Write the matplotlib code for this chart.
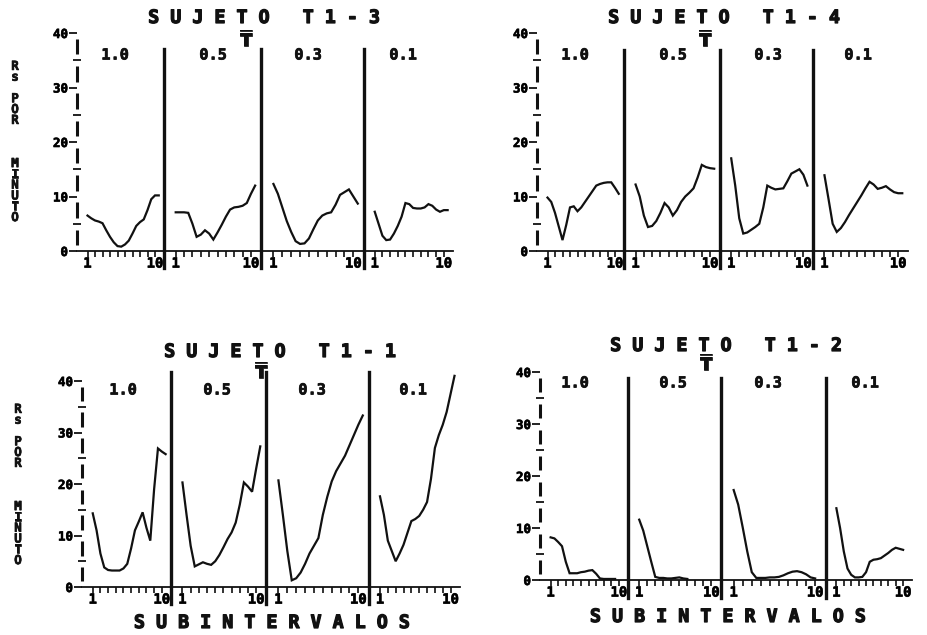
import numpy as np
import matplotlib
matplotlib.use("Agg")
import matplotlib.pyplot as plt
import matplotlib.patheffects as pe
from matplotlib.lines import Line2D

W, H = 927, 635
nan = np.nan

# subintervalos (medio paso)
x = np.arange(1, 11, 0.5)
conditions = ["1.0", "0.5", "0.3", "0.1"]

# Rs por minuto, sujeto T1-3
t13_c10 = [6.5, 6.0, 5.6, 5.4, 5.1, 3.8, 2.6, 1.6, 0.9, 0.8, 1.2, 1.9, 3.2, 4.6, 5.3, 5.8, 7.5, 9.5, 10.2, 10.2]
t13_c05 = [7.1, 7.1, 7.1, 7.0, 5.0, 2.6, 3.0, 3.8, 3.2, 2.1, 3.4, 4.8, 6.3, 7.6, 8.0, 8.1, 8.3, 8.8, 10.5, 12.0]
t13_c03 = [12.3, 10.5, 8.0, 5.5, 3.5, 1.8, 1.3, 1.4, 2.3, 4.0, 5.6, 6.5, 6.9, 7.1, 8.5, 10.3, 10.8, 11.3, 10.0, 8.7]
t13_c01 = [7.2, 5.0, 2.8, 2.0, 2.1, 3.2, 4.6, 6.3, 8.8, 8.6, 7.9, 7.8, 7.8, 8.0, 8.6, 8.3, 7.6, 7.2, 7.5, 7.5]

# sujeto T1-4
t14_c10 = [9.8, 9.0, 7.0, 4.5, 2.0, 4.8, 8.0, 8.2, 7.3, 8.0, 9.0, 10.0, 11.0, 12.0, 12.3, 12.5, 12.6, 12.6, 11.6, 10.5]
t14_c05 = [12.2, 10.0, 6.5, 4.4, 4.6, 5.5, 7.0, 8.8, 8.0, 6.5, 7.5, 9.0, 10.0, 10.7, 11.5, 13.5, 15.8, 15.4, 15.2, 15.1]
t14_c03 = [17.0, 12.0, 6.0, 3.2, 3.4, 3.9, 4.4, 5.0, 8.0, 12.0, 11.6, 11.3, 11.4, 11.5, 12.8, 14.2, 14.6, 15.0, 14.0, 12.0]
t14_c01 = [13.9, 9.5, 5.0, 3.5, 4.2, 5.3, 6.6, 7.8, 9.0, 10.2, 11.5, 12.7, 12.2, 11.4, 11.6, 11.9, 11.3, 10.8, 10.6, 10.6]

# sujeto T1-1
t11_c10 = [14.3, 11.0, 6.5, 3.8, 3.3, 3.2, 3.2, 3.2, 3.6, 4.5, 7.5, 11.0, 12.7, 14.5, 11.5, 9.0, 19.0, 26.9, 26.3, 25.8]
t11_c05 = [20.3, 14.0, 8.0, 4.0, 4.4, 4.8, 4.5, 4.3, 5.0, 6.2, 7.7, 9.3, 10.6, 12.5, 16.0, 20.3, 19.5, 18.5, 23.0, 27.3]
t11_c03 = [20.7, 14.0, 7.0, 1.3, 1.7, 2.8, 4.5, 6.5, 8.0, 9.5, 14.0, 17.5, 20.5, 22.5, 24.0, 25.5, 27.5, 29.5, 31.5, 33.3]
t11_c01 = [17.6, 14.0, 9.0, 7.0, 5.0, 6.5, 8.2, 10.5, 12.8, 13.2, 13.8, 15.0, 16.5, 21.0, 27.0, 29.5, 31.5, 34.0, 37.5, 41.0]

# sujeto T1-2
t12_c10 = [8.2, 8.0, 7.3, 6.5, 3.5, 1.3, 1.3, 1.3, 1.5, 1.6, 1.8, 1.9, 1.2, 0.3, 0.2, 0.2, 0.2, 0.2, nan, nan]
t12_c05 = [11.6, 9.5, 6.5, 3.5, 0.6, 0.4, 0.4, 0.3, 0.3, 0.4, 0.5, 0.3, 0.2, nan, nan, nan, nan, nan, nan, nan]
t12_c03 = [17.3, 14.5, 10.1, 5.5, 1.5, 0.4, 0.4, 0.4, 0.5, 0.5, 0.6, 0.9, 1.3, 1.6, 1.7, 1.5, 1.1, 0.5, 0.3, nan]
t12_c01 = [13.8, 10.0, 5.5, 2.2, 1.0, 0.5, 0.5, 0.6, 1.5, 3.5, 3.9, 4.0, 4.2, 4.7, 5.2, 5.8, 6.2, 6.0, 5.8, nan]

MONO = "DejaVu Sans Mono"
INK = "#111111"
SMALL_FX = [pe.withStroke(linewidth=0.5, foreground=INK)]
BIG_FX = [pe.withStroke(linewidth=0.9, foreground=INK)]

blocks = [
    dict(name="T1-3", series=[t13_c10, t13_c05, t13_c03, t13_c01],
         edges=[77, 164, 261, 364, 453], y0=251, y40=33,
         title=(265, 18), tbar=(247, 40), lab_y=55, lab_x=[115, 213, 308, 403],
         sep=(49, 268), ylabel=(15, 142), xlabel=None),
    dict(name="T1-4", series=[t14_c10, t14_c05, t14_c03, t14_c01],
         edges=[537, 624, 720, 813, 908], y0=251, y40=33,
         title=(725, 18), tbar=(706, 40), lab_y=55, lab_x=[575, 673, 768, 858],
         sep=(50, 268), ylabel=None, xlabel=None),
    dict(name="T1-1", series=[t11_c10, t11_c05, t11_c03, t11_c01],
         edges=[82, 171, 266, 369, 460], y0=587, y40=381,
         title=(281, 352), tbar=(262, 372), lab_y=390, lab_x=[123, 217, 312, 413],
         sep=(372, 604), ylabel=(18, 485), xlabel=(273, 623)),
    dict(name="T1-2", series=[t12_c10, t12_c05, t12_c03, t12_c01],
         edges=[540, 628, 721, 826, 912], y0=580, y40=372,
         title=(727, 346), tbar=(707, 364), lab_y=383, lab_x=[575, 673, 768, 865],
         sep=(378, 598), ylabel=None, xlabel=(729, 617)),
]


def fx(px):
    return px / W


def fy(py):
    return 1 - py / H


fig = plt.figure(figsize=(W / 100, H / 100), dpi=100)
fig.patch.set_facecolor("white")

for b in blocks:
    e = b["edges"]
    for i, vals in enumerate(b["series"]):
        ax = fig.add_axes([fx(e[i]), fy(b["y0"]), (e[i + 1] - e[i]) / W, (b["y0"] - b["y40"]) / H])
        ax.patch.set_alpha(0)
        ax.set_xlim(-0.4, 11.2)
        ax.set_ylim(0, 40)
        for s in ["top", "right", "left"]:
            ax.spines[s].set_visible(False)
        ax.spines["bottom"].set_linewidth(1.3)
        ax.spines["bottom"].set_color(INK)
        ax.set_xticks(range(1, 11))
        ax.set_xticklabels(["1"] + [""] * 8 + ["10"])
        ax.tick_params(axis="x", direction="out", length=4, width=1.2, color=INK, pad=0)
        for t in ax.get_xticklabels():
            t.set_fontfamily(MONO)
            t.set_fontweight("bold")
            t.set_fontsize(10)
            t.set_path_effects(SMALL_FX)
        if i == 0:
            ax.set_yticks([0, 10, 20, 30, 40])
            ax.set_yticks([5, 15, 25, 35], minor=True)
            ax.tick_params(axis="y", which="major", direction="out", length=6, width=1.3,
                           color=INK, pad=0.5)
            ax.tick_params(axis="y", which="minor", direction="inout", length=6, width=1.3,
                           color=INK)
            for t in ax.get_yticklabels():
                t.set_fontfamily(MONO)
                t.set_fontweight("bold")
                t.set_fontsize(9)
                t.set_path_effects(SMALL_FX)
            segs = np.arange(0, 40, 5)
            ax.vlines(np.zeros(len(segs)), segs + 1.1, segs + 3.9,
                      transform=ax.get_yaxis_transform(), color=INK, lw=2.2, clip_on=False)
        else:
            ax.set_yticks([])
        ax.plot(x, vals, color=INK, lw=1.6, clip_on=False, solid_joinstyle="miter")

        fig.text(fx(b["lab_x"][i]), fy(b["lab_y"]), conditions[i], ha="center", va="center",
                 family=MONO, weight="bold", fontsize=11, color=INK, path_effects=SMALL_FX)

    # separadores entre condiciones
    for px in e[1:4]:
        fig.add_artist(Line2D([fx(px), fx(px)], [fy(b["sep"][0]), fy(b["sep"][1])],
                              color=INK, lw=2.4))

    tx, ty = b["title"]
    label = " ".join("SUJETO") + "   " + " ".join(b["name"])
    fig.text(fx(tx), fy(ty), label, ha="center", va="center", family=MONO,
             weight="bold", fontsize=13.2, color=INK, path_effects=BIG_FX)
    bx, by = b["tbar"]
    fig.text(fx(bx), fy(by), r"$\overline{\mathbf{T}}$", ha="center", va="center",
             fontsize=13, color=INK, path_effects=SMALL_FX)

    if b["ylabel"]:
        lx, ly = b["ylabel"]
        fig.text(fx(lx), fy(ly), "R\ns\n\nP\nO\nR\n\n\n\nM\nI\nN\nU\nT\nO",
                 ha="center", va="center", family=MONO, weight="bold", fontsize=9,
                 linespacing=0.78, color=INK, path_effects=SMALL_FX)
    if b["xlabel"]:
        lx, ly = b["xlabel"]
        fig.text(fx(lx), fy(ly), " ".join("SUBINTERVALOS"), ha="center", va="center",
                 family=MONO, weight="bold", fontsize=13.2, color=INK, path_effects=BIG_FX)

fig.savefig("out.png", dpi=100, facecolor="white")
